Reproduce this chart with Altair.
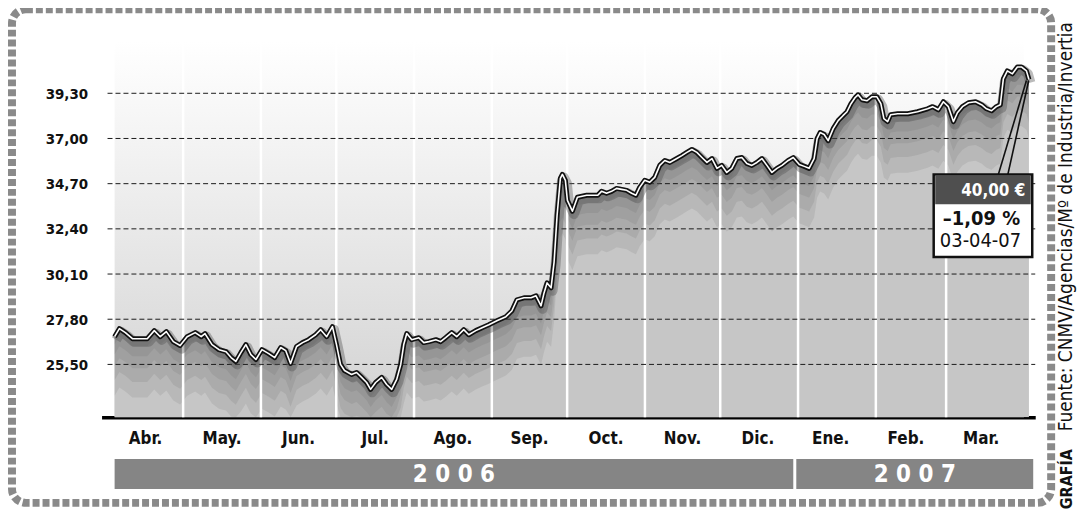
import altair as alt
import pandas as pd

# ---- data ----
# x: days since 1 April 2006, y: closing price in euros
days = [2.7, 4.6, 7.0, 9.8, 12.6, 15.7, 18.5, 20.9, 23.3, 26.1,
        28.8, 31.6, 34.8, 37.2, 38.7, 41.5, 44.3, 47.1, 49.1, 51.0,
        53.0, 55.0, 57.0, 59.0, 61.4, 64.1, 66.5, 68.9, 70.9, 72.8,
        75.2, 77.6, 80.0, 82.8, 84.8, 87.2, 89.5, 91.1, 92.7, 94.3,
        97.1, 99.1, 101.1, 103.1, 104.7, 106.7, 109.1, 111.1, 113.1, 115.1,
        116.7, 117.9, 119.1, 121.1, 123.9, 125.9, 127.9, 130.7, 132.6, 134.6,
        137.0, 139.0, 141.8, 143.8, 146.6, 149.1, 151.8, 155.0, 158.6, 161.0,
        163.0, 165.8, 168.6, 170.6, 172.6, 173.8, 175.0, 176.6, 177.8, 179.0,
        180.3, 181.1, 182.3, 183.1, 185.1, 187.1, 190.8, 193.2, 195.2, 196.7,
        198.7, 200.7, 202.7, 204.7, 206.7, 208.7, 210.4, 211.9, 213.9, 215.9,
        217.9, 219.9, 221.9, 223.9, 226.7, 228.7, 230.7, 232.7, 234.7, 236.7,
        238.7, 240.7, 242.7, 244.6, 246.6, 248.6, 250.6, 252.6, 254.6, 256.6,
        258.6, 260.6, 262.6, 264.6, 266.6, 268.6, 271.1, 273.1, 275.5, 277.5,
        279.4, 281.4, 282.6, 283.8, 285.4, 287.0, 289.0, 291.0, 292.9, 294.5,
        296.1, 297.7, 298.9, 300.5, 302.5, 304.4, 306.4, 308.0, 309.2, 310.7,
        311.9, 314.7, 318.7, 322.6, 326.6, 328.6, 330.9, 332.9, 334.9, 336.9,
        338.5, 340.5, 342.9, 345.7, 348.1, 350.1, 352.1, 354.0, 355.6, 356.8,
        358.4, 360.4, 362.4, 364.0, 366.0, 367.0]
prices = [26.91, 27.32, 27.12, 26.81, 26.81, 26.81, 27.22, 26.91, 27.17, 26.66,
          26.46, 26.91, 27.12, 26.91, 27.07, 26.51, 26.25, 26.15, 25.85, 25.65,
          26.10, 26.51, 26.00, 25.75, 26.25, 26.05, 25.85, 26.36, 26.20, 25.55,
          26.41, 26.61, 26.76, 27.01, 27.27, 26.91, 27.42, 26.51, 25.50, 25.19,
          24.99, 25.09, 24.84, 24.58, 24.23, 24.58, 24.84, 24.48, 24.23, 24.74,
          25.50, 26.51, 27.07, 26.76, 26.86, 26.61, 26.66, 26.76, 26.66, 26.86,
          27.12, 26.91, 27.27, 27.01, 27.22, 27.37, 27.52, 27.72, 27.93, 28.23,
          28.79, 28.89, 28.89, 28.99, 28.48, 29.14, 29.65, 29.40, 30.71, 33.09,
          34.97, 35.17, 34.87, 33.85, 33.30, 34.01, 34.11, 34.11, 34.11, 34.31,
          34.21, 34.31, 34.46, 34.41, 34.36, 34.21, 34.11, 34.51, 34.87, 34.77,
          35.02, 35.63, 35.88, 35.78, 35.98, 36.13, 36.29, 36.44, 36.29, 36.03,
          35.78, 35.98, 35.48, 35.63, 35.27, 35.48, 35.98, 36.03, 35.73, 35.63,
          35.78, 35.98, 35.63, 35.27, 35.48, 35.63, 35.88, 36.03, 35.68, 35.58,
          35.48, 35.98, 36.99, 37.30, 37.20, 36.89, 37.50, 37.91, 38.16, 38.36,
          38.77, 39.07, 39.22, 38.97, 38.92, 39.12, 39.12, 38.77, 38.01, 37.86,
          38.21, 38.26, 38.26, 38.36, 38.51, 38.62, 38.46, 38.87, 38.62, 37.86,
          38.31, 38.62, 38.82, 38.87, 38.72, 38.51, 38.41, 38.62, 38.72, 40.03,
          40.44, 40.29, 40.64, 40.64, 40.44, 40.00]

month_names = ["Abr.", "May.", "Jun.", "Jul.", "Ago.", "Sep.",
               "Oct.", "Nov.", "Dic.", "Ene.", "Feb.", "Mar."]
month_start = [2.7, 30, 61, 91, 122, 153, 183, 214, 244, 275, 306, 334]
month_end = [30, 61, 91, 122, 153, 183, 214, 244, 275, 306, 334, 365]
month_label_pos = [15, 45.5, 76, 106.5, 137.5, 168, 198.5, 229, 259, 288, 318, 348]
month_gaps = [30, 61, 91, 122, 153, 183, 214, 244, 275, 306, 334]

y_ticks = [25.50, 27.80, 30.10, 32.40, 34.70, 37.00, 39.30]

year_labels = ["2 0 0 6", "2 0 0 7"]
year_start = [2.7, 274.3]
year_end = [273.1, 368.7]
year_mid = [137.9, 321.5]

box_lines = ["40,00 €", "–1,09 %", "03-04-07"]
leader_x = [354.8, 358.6]
leader_x2 = [366.0, 366.9]
leader_y = [35.17, 35.17]
leader_y2 = [39.95, 39.95]

source_text = "Fuente: CNMV/Agencias/Mº de Industria/Invertia"
credit_text = "GRAFÍA"

# shadow depths below the line (price units) for the soft halftone fade
shade_depths = [0.4, 0.9, 1.5, 2.2, 3.0]

# ---- layout ----
W, H = 938, 378
YMIN, YMAX = 22.81, 41.96
FONT = "DejaVu Sans Condensed, Liberation Sans Narrow, DejaVu Sans, sans-serif"

xs = alt.Scale(domain=[-2.5, 369.5], nice=False, zero=False)
ys = alt.Scale(domain=[YMIN, YMAX], nice=False, zero=False)
xaxis = alt.Axis(labels=False, ticks=False, grid=False, domain=True,
                 domainColor="#000000", domainWidth=3.5, title=None)
yaxis = alt.Axis(values=y_ticks, grid=False, domain=False, ticks=False, tickSize=0,
                 labelPadding=14, labelFont=FONT, labelFontSize=15,
                 labelFontWeight="bold", labelColor="#111111", title=None,
                 labelExpr="replace(format(datum.value, '.2f'), '.', ',')")


def X(f):
    return alt.X(f, type="quantitative", scale=xs, axis=xaxis)


def Y(f):
    return alt.Y(f, type="quantitative", scale=ys, axis=yaxis)


df = pd.DataFrame({"d": days, "v": prices})
months = pd.DataFrame({"d": month_start, "d2": month_end,
                       "name": month_names, "mid": month_label_pos})
gaps = pd.DataFrame({"d": month_gaps})
grid = pd.DataFrame({"v": y_ticks})
yrs = pd.DataFrame({"d": year_start, "d2": year_end, "mid": year_mid, "lab": year_labels})
leaders = pd.DataFrame({"d": leader_x, "d2": leader_x2, "v": leader_y, "v2": leader_y2})
one = pd.DataFrame({"k": [0]})

bg_grad = alt.Gradient(gradient="linear",
                       stops=[alt.GradientStop(color="#ffffff", offset=0),
                              alt.GradientStop(color="#f2f2f2", offset=0.3),
                              alt.GradientStop(color="#d2d2d2", offset=1)],
                       x1=0, x2=0, y1=0, y2=1)

bands = alt.Chart(months).mark_rect(fill=bg_grad).encode(
    x=X("d"), x2="d2", y=alt.value(0), y2=alt.value(H))

base = alt.Chart(df).encode(x=X("d"), y=Y("v"))

area = base.mark_area(color="#c6c6c6", clip=True).encode(y2=alt.datum(YMIN))
shades = [
    base.transform_calculate(lo=f"max(datum.v - {dep}, {YMIN})").mark_area(
        color="#4a4a4a", opacity=0.11, clip=True).encode(y2="lo:Q")
    for dep in shade_depths
]

gap_rules = alt.Chart(gaps).mark_rule(color="#ffffff", strokeWidth=2.5).encode(
    x=X("d"), y=alt.value(0), y2=alt.value(H))

grid_rules = alt.Chart(grid).mark_rule(color="#1a1a1a", strokeWidth=1,
                                       strokeDash=[5, 3]).encode(
    y=Y("v"), x=alt.value(6), x2=alt.value(W))

halo = base.mark_line(color="#555555", strokeWidth=10, opacity=0.4,
                      xOffset=1.5, yOffset=3, strokeJoin="round")
outline = base.mark_line(color="#111111", strokeWidth=5, strokeJoin="round")
inner = base.mark_line(color="#ffffff", strokeWidth=1.6, strokeJoin="round")

lead = alt.Chart(leaders).mark_rule(color="#111111", strokeWidth=1.6).encode(
    x=X("d"), x2="d2", y=Y("v"), y2="v2")

box = alt.Chart(one).mark_rect(fill="#ffffff", stroke="#111111", strokeWidth=2.5).encode(
    x=alt.value(836), x2=alt.value(935), y=alt.value(134), y2=alt.value(217))
box_head = alt.Chart(one).mark_rect(fill="#4f4f4f").encode(
    x=alt.value(837.5), x2=alt.value(933.5), y=alt.value(135.5), y2=alt.value(164))
t1 = alt.Chart(pd.DataFrame({"t": [box_lines[0]]})).mark_text(
    font=FONT, fontSize=17, fontWeight="bold", color="#ffffff", align="right",
    baseline="middle").encode(x=alt.value(928), y=alt.value(151), text="t:N")
t2 = alt.Chart(pd.DataFrame({"t": [box_lines[1]]})).mark_text(
    font=FONT, fontSize=20, fontWeight="bold", color="#111111", align="center",
    baseline="middle").encode(x=alt.value(884), y=alt.value(179), text="t:N")
t3 = alt.Chart(pd.DataFrame({"t": [box_lines[2]]})).mark_text(
    font=FONT, fontSize=20, color="#111111", align="center",
    baseline="middle").encode(x=alt.value(883), y=alt.value(201), text="t:N")

mlabels = alt.Chart(months).mark_text(font=FONT, fontSize=17, fontWeight="bold",
                                      color="#111111", baseline="middle").encode(
    x=X("mid"), y=alt.value(400), text="name:N")

yband = alt.Chart(yrs).mark_rect(color="#858585").encode(
    x=X("d"), x2="d2", y=alt.value(420), y2=alt.value(450))
ytext = alt.Chart(yrs).mark_text(font=FONT, fontSize=24, fontWeight="bold",
                                 color="#ffffff", baseline="middle").encode(
    x=X("mid"), y=alt.value(436), text="lab:N")

frame = alt.Chart(one).mark_rect(fillOpacity=0, stroke="#8a8a8a", strokeWidth=8,
                                 strokeDash=[7, 3], cornerRadius=14).encode(
    x=alt.value(-90), x2=alt.value(954), y=alt.value(-32), y2=alt.value(464))

src = alt.Chart(pd.DataFrame({"t": [source_text]})).mark_text(
    font=FONT, fontSize=19, color="#111111", angle=270, align="left",
    baseline="alphabetic").encode(x=alt.value(975), y=alt.value(392), text="t:N")
cred = alt.Chart(pd.DataFrame({"t": [credit_text]})).mark_text(
    font=FONT, fontSize=16, fontWeight="bold", color="#111111", angle=270,
    align="right", baseline="alphabetic").encode(x=alt.value(975), y=alt.value(410), text="t:N")

chart = alt.layer(
    bands, area, *shades, gap_rules, grid_rules, halo, outline, inner,
    lead, box, box_head, t1, t2, t3, mlabels, yband, ytext, frame, src, cred
).properties(
    width=W, height=H,
    autosize=alt.AutoSizeParams(type="none"),
    padding={"left": 94, "top": 32, "right": 48, "bottom": 95},
    background="#ffffff",
).configure_view(stroke=None)

chart.save("out.html", embed_options={"renderer": "svg", "actions": False})
